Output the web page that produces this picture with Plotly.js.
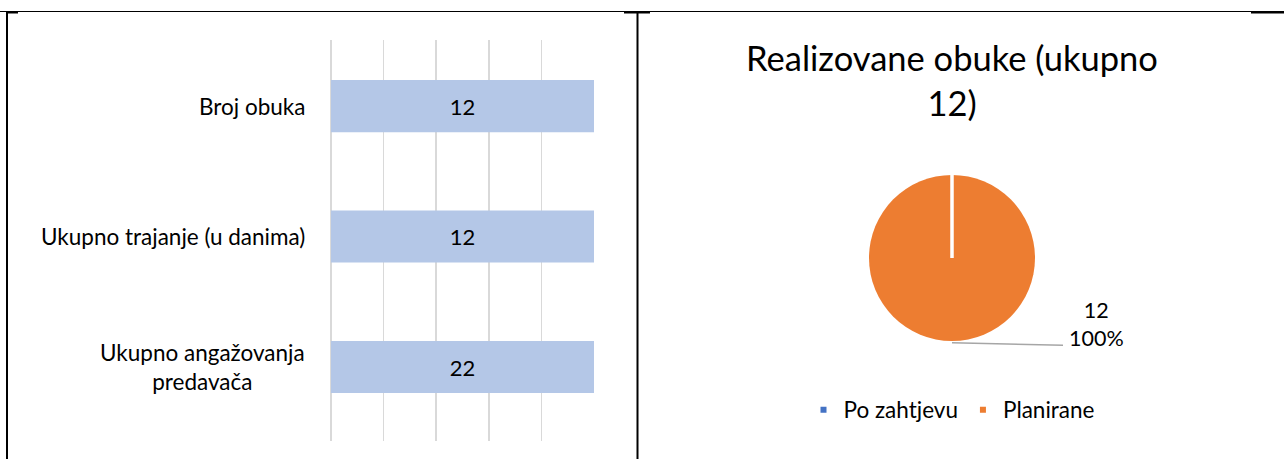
<!DOCTYPE html>
<html>
<head>
<meta charset="utf-8">
<script src="https://cdn.plot.ly/plotly-3.0.1.min.js"></script>
<style>
  html, body { margin: 0; padding: 0; background: #ffffff; }
  #chart { width: 1284px; height: 459px; }
</style>
</head>
<body>
<div id="chart"></div>
<script>
// ---- data ----
const barCategories = ['Broj obuka', 'Ukupno trajanje (u danima)', 'Ukupno angažovanja<br>predavača'];
const barValues = [12, 12, 22];

const pieLabels = ['Po zahtjevu', 'Planirane'];
const pieValues = [0, 12];
const pieColors = ['#4472C4', '#ED7D31'];

const titleLine1 = 'Realizovane obuke (ukupno';
// ---- end data ----

const W = 1284, H = 459;
const px = v => v / W;
const py = v => 1 - v / H;
const FONT = 'Lato, "Open Sans", sans-serif';
const TXT = '#000000';

const pieTotal = pieValues.reduce((a, b) => a + b, 0);

const xDom = [px(331), px(594)];
const yDom = [py(441), py(40)];
const pieX = [px(869), px(1035)];
const pieY = [py(341.5), py(174.5)];
const pieCx = (pieX[0] + pieX[1]) / 2;
const pieCy = (pieY[0] + pieY[1]) / 2;

const barTrace = {
  type: 'bar',
  orientation: 'h',
  y: barCategories,
  x: barValues,
  text: barValues.map(String),
  textposition: 'inside',
  insidetextanchor: 'middle',
  textangle: 0,
  insidetextfont: { family: FONT, size: 22, color: TXT },
  marker: { color: '#B4C7E7', line: { width: 0 } },
  hoverinfo: 'skip',
  showlegend: false,
  xaxis: 'x',
  yaxis: 'y'
};

const pieTrace = {
  type: 'pie',
  labels: pieLabels,
  values: pieValues,
  marker: { colors: pieColors, line: { width: 0 } },
  sort: false,
  direction: 'clockwise',
  rotation: 0,
  textinfo: 'none',
  hoverinfo: 'skip',
  domain: { x: pieX, y: pieY },
  showlegend: true
};

const annotations = barCategories.map(c => ({
  xref: 'paper', yref: 'y',
  x: xDom[0], y: c,
  xanchor: 'right', yanchor: 'middle',
  xshift: -24,
  text: c,
  align: 'center',
  showarrow: false,
  font: { family: FONT, size: 22.5, color: TXT }
}));

// pie data label (value + percent) for the non-zero slice
pieValues.forEach((v, i) => {
  if (v > 0) {
    annotations.push({
      xref: 'paper', yref: 'paper',
      x: px(1096), y: py(324),
      xanchor: 'center', yanchor: 'middle',
      text: v + '<br>' + Math.round(v / pieTotal * 100) + '%',
      align: 'center',
      showarrow: false,
      font: { family: FONT, size: 21.5, color: TXT }
    });
  }
});

const shapes = [
  // frame lines
  { type: 'line', xref: 'paper', yref: 'paper', x0: 0, x1: 1, y0: py(11.5), y1: py(11.5), line: { color: '#000', width: 1 } },
  { type: 'line', xref: 'paper', yref: 'paper', x0: px(7), x1: px(7), y0: 0, y1: py(11), line: { color: '#000', width: 2 } },
  { type: 'line', xref: 'paper', yref: 'paper', x0: px(637.5), x1: px(637.5), y0: 0, y1: py(11), line: { color: '#000', width: 2 } },
  { type: 'line', xref: 'paper', yref: 'paper', x0: px(6), x1: px(18), y0: py(12.5), y1: py(12.5), line: { color: '#000', width: 2 } },
  { type: 'line', xref: 'paper', yref: 'paper', x0: px(624), x1: px(650), y0: py(12.5), y1: py(12.5), line: { color: '#000', width: 2 } },
  { type: 'line', xref: 'paper', yref: 'paper', x0: px(1251), x1: 1, y0: py(12.5), y1: py(12.5), line: { color: '#000', width: 2 } },
  // border of the zero-size slice at the start angle
  { type: 'line', xref: 'paper', yref: 'paper', x0: pieCx, x1: pieCx, y0: pieCy, y1: pieY[1] + 0.005, line: { color: '#ffffff', width: 3.5 } },
  // leader line to the data label
  { type: 'line', xref: 'paper', yref: 'paper', x0: pieCx, x1: px(1063), y0: py(342.7), y1: py(345.3), line: { color: '#A6A6A6', width: 1.5 } }
];

const layout = {
  width: W, height: H,
  margin: { l: 0, r: 0, t: 0, b: 0 },
  paper_bgcolor: '#ffffff',
  plot_bgcolor: '#ffffff',
  font: { family: FONT, color: TXT },
  barmode: 'stack',
  barnorm: 'percent',
  bargap: 0.6,
  title: {
    text: titleLine1 + '<br>' + pieTotal + ')',
    font: { family: FONT, size: 34.5, color: TXT },
    x: pieCx, xref: 'paper', xanchor: 'center',
    y: py(71), yref: 'container', yanchor: 'top'
  },
  xaxis: {
    domain: xDom,
    range: [0, 100],
    dtick: 20,
    showticklabels: false,
    showgrid: true,
    gridcolor: '#D9D9D9',
    gridwidth: 1.5,
    zeroline: true,
    zerolinecolor: '#D9D9D9',
    zerolinewidth: 1.5,
    showline: false,
    fixedrange: true
  },
  yaxis: {
    domain: yDom,
    type: 'category',
    categoryorder: 'array',
    categoryarray: barCategories,
    range: [2.567, -0.506],
    showticklabels: false,
    showgrid: false,
    zeroline: false,
    showline: false,
    fixedrange: true
  },
  legend: {
    orientation: 'h',
    traceorder: 'normal',
    x: px(952), xanchor: 'center',
    y: py(410), yanchor: 'middle',
    font: { family: FONT, size: 22.5, color: TXT },
    bgcolor: 'rgba(0,0,0,0)'
  },
  annotations: annotations,
  shapes: shapes,
  hovermode: false
};

Plotly.newPlot('chart', [barTrace, pieTrace], layout, { displayModeBar: false, staticPlot: true }).then(() => {
  document.querySelectorAll('#chart .legend .legendpoints path').forEach(p => {
    p.setAttribute('d', 'M3,3H-3V-3H3Z');
  });
});
</script>
</body>
</html>
